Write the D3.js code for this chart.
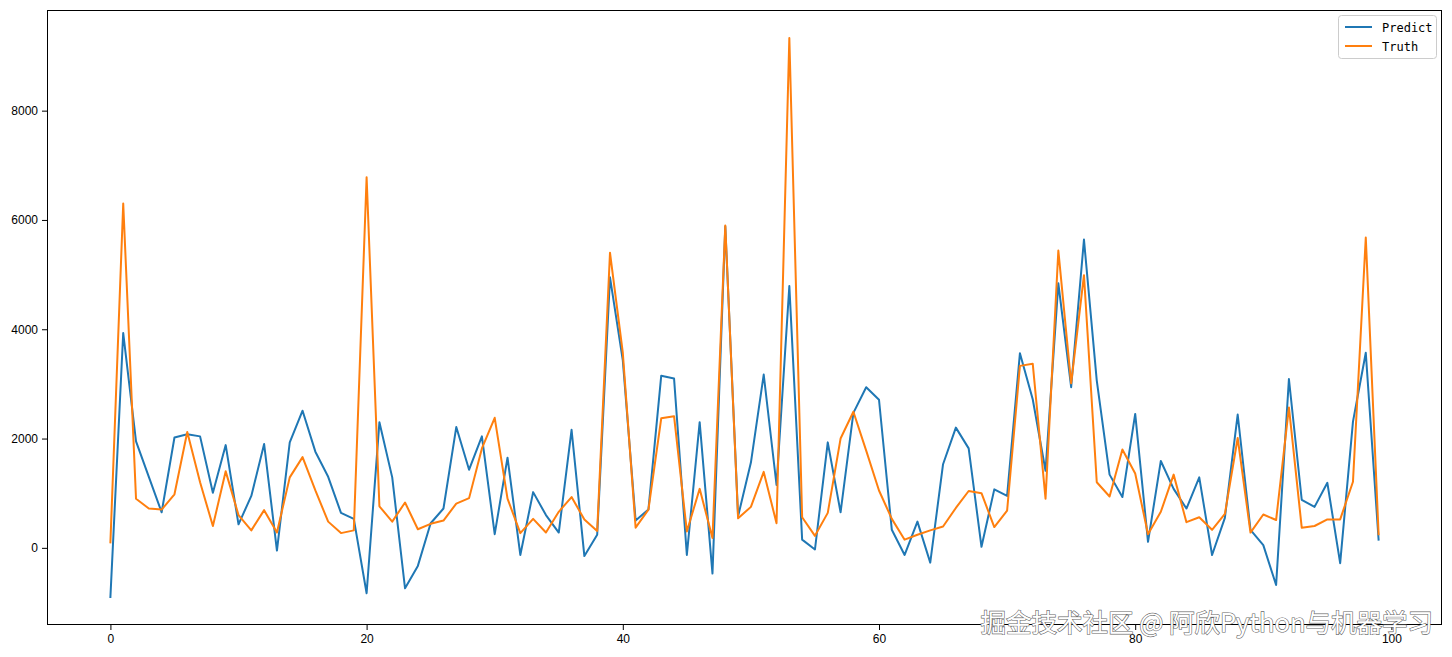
<!DOCTYPE html>
<html>
<head>
<meta charset="utf-8">
<script src="https://cdn.jsdelivr.net/npm/d3@7"></script>
<style>
  body { margin: 0; background: #fff; }
  svg { display: block; }
</style>
</head>
<body>
<svg id="chart" width="1452" height="657"></svg>
<script>
// values, index 0..99
var predict = [
  -900, 3930, 1950, 1300, 650, 2020, 2080, 2040, 1010, 1880,
  430, 950, 1900, -50, 1930, 2510, 1760, 1300, 640, 530,
  -830, 2300, 1290, -740, -330, 450, 720, 2210, 1430, 2040,
  250, 1650, -130, 1020, 600, 280, 2160, -150, 240, 4950,
  3430, 500, 700, 3150, 3100, -130, 2300, -470, 5880, 580,
  1560, 3170, 1150, 4790, 150, -30, 1930, 650, 2470, 2940,
  2710, 330, -130, 480, -270, 1530, 2200, 1820, 20, 1070,
  950, 3560, 2720, 1410, 4840, 2940, 5640, 3060, 1340, 930,
  2450, 110, 1590, 1080, 720, 1290, -130, 550, 2440, 330,
  50, -680, 3090, 880, 750, 1190, -280, 2310, 3570, 150
];
var truth = [
  100, 6300, 900, 720, 700, 980, 2120, 1200, 400, 1400,
  600, 320, 690, 280, 1290, 1660, 1050, 480, 270, 320,
  6780, 760, 480, 830, 340, 440, 500, 810, 910, 1820,
  2380, 900, 270, 530, 280, 660, 930, 520, 310, 5400,
  3570, 370, 700, 2370, 2410, 300, 1080, 180, 5900, 540,
  750, 1390, 450, 9330, 560, 220, 640, 2000, 2490, 1780,
  1050, 530, 150, 240, 320, 390, 730, 1040, 1000, 380,
  680, 3330, 3370, 900, 5440, 3010, 4990, 1200, 940, 1800,
  1360, 250, 660, 1340, 470, 560, 330, 620, 2010, 280,
  610, 510, 2570, 370, 400, 520, 520, 1210, 5680, 250
];
var seriesNames = ['Predict', 'Truth'];
var seriesColors = ['#1f77b4', '#ff7f0e'];
var xTicks = [0, 20, 40, 60, 80, 100];
var yTicks = [0, 2000, 4000, 6000, 8000];
var watermark = '掘金技术社区 @ 阿欣Python与机器学习';

function draw() {
  var svg = d3.select('#chart');
  var mLeft = 47, mRight = 1442, mTop = 10, mBottom = 625;

  // matplotlib style 5% margins
  var n = predict.length;
  var xPad = (n - 1) * 0.05;
  var x = d3.scaleLinear().domain([-xPad, n - 1 + xPad]).range([mLeft, mRight]);
  var all = predict.concat(truth);
  var yMin = d3.min(all), yMax = d3.max(all), yPad = (yMax - yMin) * 0.05;
  var y = d3.scaleLinear().domain([yMin - yPad, yMax + yPad]).range([mBottom, mTop]);

  var line = d3.line().x((d, i) => x(i)).y(d => y(d));

  [predict, truth].forEach(function(s, k) {
    svg.append('path')
      .datum(s)
      .attr('d', line)
      .attr('fill', 'none')
      .attr('stroke', seriesColors[k])
      .attr('stroke-width', 2)
      .attr('stroke-linejoin', 'round')
      .attr('stroke-linecap', 'square');
  });

  // axes
  var xAxis = d3.axisBottom(x).tickValues(xTicks).tickFormat(d3.format('d')).tickSize(5).tickPadding(4);
  var yAxis = d3.axisLeft(y).tickValues(yTicks).tickFormat(d3.format('d')).tickSize(5).tickPadding(4);

  var gx = svg.append('g').attr('transform', 'translate(0,' + mBottom + ')').call(xAxis);
  var gy = svg.append('g').attr('transform', 'translate(' + mLeft + ',0)').call(yAxis);
  [gx, gy].forEach(function(g) {
    g.select('.domain').remove();
    g.selectAll('.tick line').attr('stroke', '#000').attr('stroke-width', 1);
    g.selectAll('.tick text')
      .attr('fill', '#000')
      .attr('font-family', 'Liberation Sans, Arial, sans-serif')
      .attr('font-size', '12px');
  });

  svg.append('rect')
    .attr('x', mLeft + 0.5).attr('y', mTop + 0.5)
    .attr('width', mRight - mLeft - 1).attr('height', mBottom - mTop - 1)
    .attr('fill', 'none').attr('stroke', '#000').attr('stroke-width', 1);

  // legend
  var lg = svg.append('g').attr('transform', 'translate(1338,15)');
  lg.append('rect')
    .attr('x', 0.5).attr('y', 0.5).attr('width', 98).attr('height', 43).attr('rx', 3)
    .attr('fill', '#fff').attr('fill-opacity', 0.8)
    .attr('stroke', '#ccc').attr('stroke-width', 1);
  seriesNames.forEach(function(name, k) {
    var cy = 12 + k * 19;
    lg.append('line')
      .attr('x1', 7).attr('x2', 34).attr('y1', cy).attr('y2', cy)
      .attr('stroke', seriesColors[k]).attr('stroke-width', 2);
    lg.append('text')
      .attr('x', 44).attr('y', cy + 4.5)
      .attr('font-family', 'DejaVu Sans Mono, monospace')
      .attr('font-size', '12px')
      .attr('fill', '#000')
      .text(name);
  });

  // watermark
  svg.append('text')
    .attr('x', 1433).attr('y', 632)
    .attr('text-anchor', 'end')
    .attr('font-family', 'Noto Sans CJK SC, sans-serif')
    .attr('font-size', '25.5px')
    .attr('fill', '#fff')
    .attr('stroke', '#666')
    .attr('stroke-width', 1.2)
    .attr('paint-order', 'stroke')
    .text(watermark);
}

draw();
</script>
</body>
</html>
